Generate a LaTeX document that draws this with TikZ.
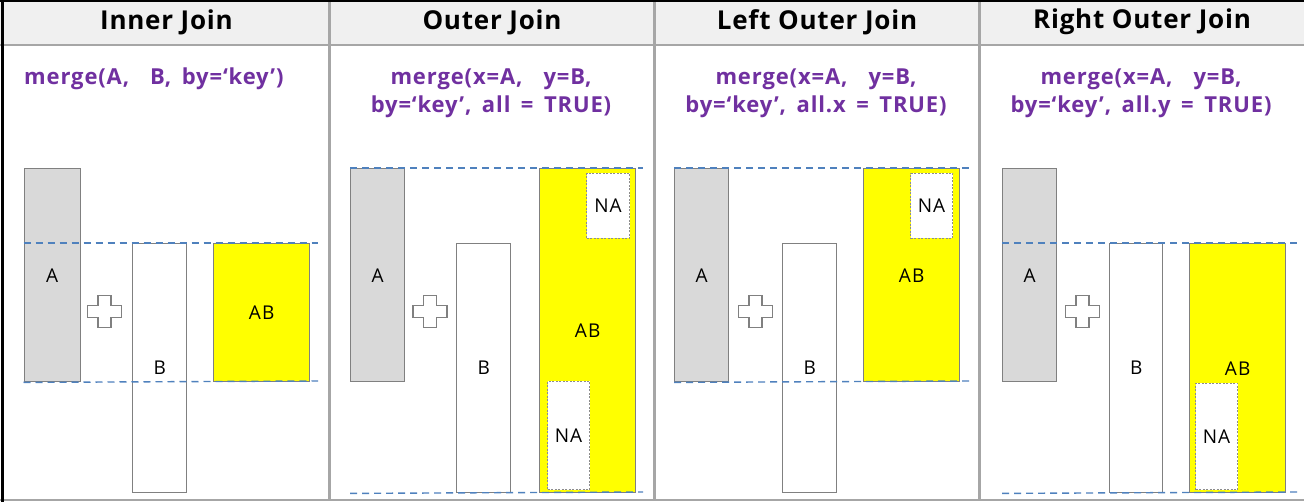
\documentclass[tikz,border=0pt]{standalone}
\usepackage{fontspec}
\setmainfont{Open Sans}
\definecolor{hdrfill}{HTML}{F0F0F0}
\definecolor{sepgray}{HTML}{A6A6A6}
\definecolor{boxgray}{HTML}{808080}
\definecolor{agray}{HTML}{D9D9D9}
\definecolor{joinyellow}{HTML}{FFFF00}
\definecolor{codepurple}{HTML}{7030A0}
\definecolor{guideblue}{HTML}{4F81BD}
\tikzset{
  tbl/.style={rectangle, draw=boxgray, line width=1.4pt, inner sep=0pt, anchor=north west,
    font=\fontsize{19}{19}\selectfont\addfontfeature{LetterSpace=6}},
  tblA/.style={tbl, fill=agray},
  tblB/.style={tbl, fill=white},
  tblAB/.style={tbl, fill=joinyellow},
  tblNA/.style={tbl, fill=white, draw=boxgray!90, line width=1pt, dash pattern=on 2pt off 1.5pt},
  hdr/.style={font=\bfseries\fontsize{26}{26}\selectfont\addfontfeature{LetterSpace=3}, inner sep=0pt},
  formula/.style={font={\bfseries\fontsize{22}{28}\selectfont\addfontfeature{LetterSpace=4}\spaceskip=10.5pt plus 1pt minus 1pt\relax}, text=codepurple, inner sep=0pt, align=center},
  guide/.style={draw=guideblue, line width=1.4pt, dash pattern=on 7pt off 5pt},
  plussign/.pic={\draw[boxgray, line width=1.6pt, fill=white]
    (-6.5,-16)--(6.5,-16)--(6.5,-6)--(17,-6)--(17,6)--(6.5,6)--(6.5,16)--(-6.5,16)--(-6.5,6)--(-17,6)--(-17,-6)--(-6.5,-6)--cycle;}
}
\begin{document}
\begin{tikzpicture}[x=1pt,y=-1pt]
\useasboundingbox (0,0) rectangle (1304,502);
\fill[white] (0,0) rectangle (1304,502);
% header band
\fill[hdrfill] (0,0) rectangle (1304,45);
\draw[sepgray, line width=2pt] (0,45) -- (1304,45);
% column separators
\foreach \sx in {329.5,654.5,979.5} \draw[sepgray, line width=2.5pt] (\sx,0) -- (\sx,500);
% outer frame
\draw[sepgray, line width=2pt] (0,499.5) -- (1304,499.5);
\draw[black, line width=2pt] (0,1) -- (1304,1);
\draw[black, line width=3pt] (2,0) -- (2,502);

% headers
\node[hdr] (h1) at (166.5,22) {Inner Join};
\node[hdr] (h2) at (492,22) {Outer Join};
\node[hdr] (h3) at (817,22) {Left Outer Join};
\node[hdr] (h4) at (1142,22) {Right Outer Join};

% formulas
\node[formula, anchor=west] (f1) at (24,79) {merge(A,\ \ B, by=‘key’)};
\node[formula] (f2) at (491,93.5) {merge(x=A,\ \ y=B,\\by=‘key’, all = TRUE)};
\node[formula] (f3) at (816,93.5) {merge(x=A,\ \ y=B,\\by=‘key’, all.x = TRUE)};
\node[formula] (f4) at (1141,93.5) {merge(x=A,\ \ y=B,\\by=‘key’, all.y = TRUE)};

% ---- Panel 1: inner join
\node[tblA, minimum width=56pt, minimum height=213pt] (A1) at (23.5,168) {A};
\pic at (104.5,311.5) {plussign};
\node[tblB, minimum width=54pt, minimum height=249pt] (B1) at (132,243) {B};
\node[tblAB, minimum width=96pt, minimum height=138pt] (AB1) at (213,243) {AB};
\coordinate (g1a) at (318,243);
\coordinate (g1b) at (318,381);

% ---- Panel 2: outer join
\node[tblA, minimum width=54pt, minimum height=213pt] (A2) at (350,168) {A};
\pic at (430,311.5) {plussign};
\node[tblB, minimum width=54pt, minimum height=249pt] (B2) at (456,243) {B};
\node[tblAB, minimum width=96pt, minimum height=324pt] (AB2) at (539,168) {AB};
\node[tblNA, minimum width=43pt, minimum height=65pt] (NA2a) at (586,173) {NA};
\node[tblNA, minimum width=42pt, minimum height=108pt] (NA2b) at (547,381) {NA};
\coordinate (g2a) at (643,168);
\coordinate (g2b) at (643,492);

% ---- Panel 3: left outer join
\node[tblA, minimum width=54pt, minimum height=213pt] (A3) at (674,168) {A};
\pic at (755.5,311.5) {plussign};
\node[tblB, minimum width=54pt, minimum height=249pt] (B3) at (782,243) {B};
\node[tblAB, minimum width=96pt, minimum height=213pt] (AB3) at (863,168) {AB};
\node[tblNA, minimum width=42pt, minimum height=65pt] (NA3) at (910,173) {NA};
\coordinate (g3a) at (969,168);
\coordinate (g3b) at (969,381);

% ---- Panel 4: right outer join
\node[tblA, minimum width=54pt, minimum height=213pt] (A4) at (1002,168) {A};
\pic at (1082.5,311.5) {plussign};
\node[tblB, minimum width=53pt, minimum height=249pt] (B4) at (1109,243) {B};
\node[tblAB, minimum width=96pt, minimum height=249pt] (AB4) at (1189,243) {AB};
\node[tblNA, minimum width=42pt, minimum height=106pt] (NA4) at (1195,383) {NA};
\coordinate (g4a) at (1298,243);
\coordinate (g4b) at (1298,492);

% guide lines
\draw[guide] (A1.west |- B1.north) -- (g1a);
\draw[guide] (A1.south west) -- (g1b);
\draw[guide] (A2.north west) -- (g2a);
\draw[guide] (A2.west |- B2.south) -- (g2b);
\draw[guide] (A3.north west) -- (g3a);
\draw[guide] (A3.south west) -- (g3b);
\draw[guide] (A4.west |- B4.north) -- (g4a);
\draw[guide] (A4.west |- B4.south) -- (g4b);
\end{tikzpicture}
\end{document}
